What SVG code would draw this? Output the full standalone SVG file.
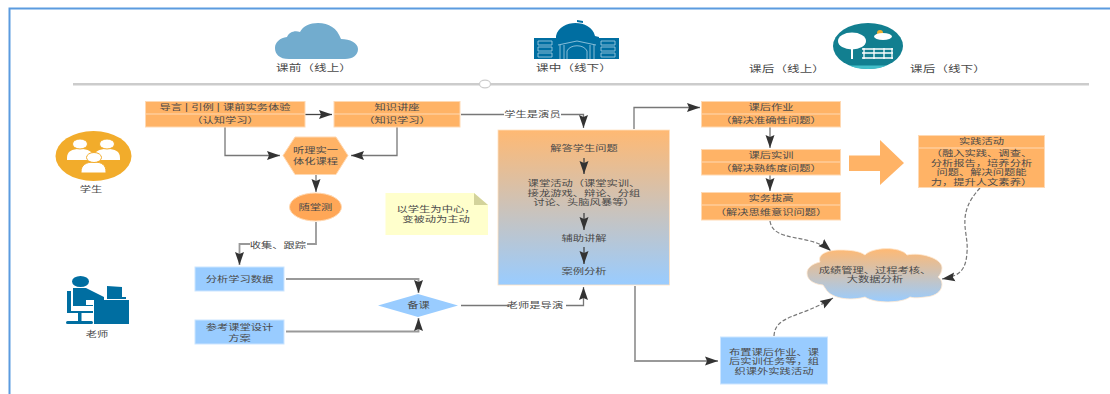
<svg xmlns="http://www.w3.org/2000/svg" width="1110" height="394" viewBox="0 0 1110 394">
<style>
text{font-family:"Liberation Sans","Noto Sans CJK SC",sans-serif;font-size:8.300px;fill:#4a4a4a;text-anchor:middle;dominant-baseline:central;transform-box:fill-box;transform-origin:center;transform:scaleX(1.36)}
.hd{font-size:9.300px}
.or{fill:#ffb366;stroke:#ffd9b3;stroke-width:1}
.bl{fill:#99ccff;stroke:#cce5ff;stroke-width:1}
.dv{stroke:#ffd9b3;stroke-width:1.2}
.c{fill:none;stroke:#777;stroke-width:1.3}
.c2{fill:none;stroke:#999;stroke-width:1.8}
.d{fill:none;stroke:#777;stroke-width:1.2;stroke-dasharray:4 2}
.lb{fill:#fff;stroke:none}
.tl{fill:#006ea1}
.wh{fill:#fff}
</style>
<defs>
<marker id="a" markerUnits="userSpaceOnUse" markerWidth="14" markerHeight="10" refX="13" refY="5" orient="auto"><path d="M0 0.5L13 5L0 9.500L2 5Z" fill="#333"/></marker>
<linearGradient id="g" x1="0" y1="0" x2="0" y2="1"><stop offset="0" stop-color="#ffb973"/><stop offset="1" stop-color="#99ccff"/></linearGradient>
</defs>
<g id="frame"><path d="M1110 8.500H9.500V394" fill="none" stroke="#5b9bdf" stroke-width="2"/></g>
<g id="timeline"><rect x="73" y="83" width="1016" height="2.500" fill="#ccc"/><ellipse cx="485" cy="84" rx="5.500" ry="3.800" fill="#fff" stroke="#ccc" stroke-width="1.200"/></g>
<g id="connectors">
<path class="c" d="M305 114.500H332" marker-end="url(#a)" style="stroke:#444"/>
<path class="c" d="M225 127V155.500H280" marker-end="url(#a)"/>
<path class="c" d="M397 127V155.500H351" marker-end="url(#a)"/>
<path class="c" d="M316 175V192" marker-end="url(#a)"/>
<path class="c2" d="M316 222V244H239.500V265" marker-end="url(#a)"/>
<rect class="lb" x="250" y="238" width="57" height="12"/>
<path class="c2" d="M286 279H418.500V293" marker-end="url(#a)"/>
<path class="c2" d="M286 331.500H418.500V318" marker-end="url(#a)"/>
<path class="c" d="M461 114.500H583.500V128" marker-end="url(#a)"/>
<rect class="lb" x="504" y="108" width="57" height="12"/>
<path class="c" d="M461 305.500H583.500V287" marker-end="url(#a)"/>
<rect class="lb" x="509" y="299" width="57" height="12"/>
<path class="c" d="M634 129V107.500H700" marker-end="url(#a)"/>
<path class="c2" d="M635 286V361H718" marker-end="url(#a)"/>
<path class="c" d="M770 127V148" marker-end="url(#a)"/>
<path class="c" d="M770 175V191" marker-end="url(#a)"/>
<path class="d" d="M770 221C773 243 810 233 831 251" marker-end="url(#a)"/>
<path class="d" d="M980 188C955 215 969 232 967 252C966 270 960 276 942 279" marker-end="url(#a)"/>
<path class="d" d="M774 336C775 315 800 318 833 298" marker-end="url(#a)"/>
</g>
<g id="pre-icon"><path d="M289 59C279 59 275 54 275 48C275 42 280 38 287 37C289 32 295 30 300 32C303 26 310 23 318 23C329 23 337 28 341 39C350 39 358 43 358 49C358 55 353 59 345 59Z" fill="#72acce"/><text class="hd" x="314" y="68">课前（线上）</text></g>
<g id="mid-icon"><path d="M556 36C558 27 567 23 575.500 23C584 23 593 27 595 36L599 37V38H556Z" class="tl"/><path d="M577 20L583 21V23L577 22Z" class="tl"/><rect class="tl" x="534" y="38" width="85" height="21"/>
<g fill="none" stroke="#a9d2e6" stroke-width="0.800"><path d="M538 41h14v4h-14zM538 47h14v4h-14zM538 53h14v4h-14zM601 41h14v4h-14zM601 47h14v4h-14zM601 53h14v4h-14z"/><path d="M558 45L577 41L596 45M560 45V59M564 45V59M590 45V59M594 45V59M567 59V51C570 44 584 44 587 51V59"/></g>
<text class="hd" x="574" y="68">课中（线下）</text></g>
<g id="post-icon">
<ellipse cx="868" cy="46" rx="35" ry="23" fill="#127f90"/>
<path d="M849 65.500H887A35 23 0 0 1 868 69A35 23 0 0 1 849 65.500Z" fill="#43bfc9"/>
<ellipse cx="852" cy="41" rx="14" ry="8.500" class="wh"/><rect class="wh" x="851" y="45" width="2" height="14"/>
<path d="M862 49h31M862 53h31M862 58h31M864 48v11M874 48v11M884 48v11M892 48v11" stroke="#fff" stroke-width="1.300" fill="none"/>
<circle cx="880" cy="33" r="3" fill="#f0b030"/><ellipse cx="883" cy="36.500" rx="9" ry="3.500" class="wh"/>
<text class="hd" x="787" y="69">课后（线上）</text><text class="hd" x="948" y="69">课后（线下）</text></g>
<g id="student"><ellipse cx="93.500" cy="156" rx="38" ry="25" fill="#f2ac2b"/>
<g class="wh"><path d="M67 158C67 151 72 149 80 149C88 149 93 151 93 158V160H67Z"/><ellipse cx="80" cy="144" rx="7.500" ry="5" stroke="#f2ac2b"/><path d="M94 158C94 151 99 149 107 149C115 149 120 151 120 158V160H94Z"/><ellipse cx="107" cy="144" rx="7.500" ry="5" stroke="#f2ac2b"/><path d="M81 172C81 165 86 162 94 162C102 162 106 165 106 172V173H81Z" stroke="#f2ac2b"/><ellipse cx="94" cy="157.500" rx="7.500" ry="5" stroke="#f2ac2b"/></g>
<text x="91" y="189">学生</text></g>
<g id="teacher"><g class="tl"><ellipse cx="80.500" cy="281.500" rx="8.500" ry="5.500"/><path d="M73 288H86L104 297V300H86V305H93V306H73Z"/><path d="M67 291H71V311H93V313H67Z"/><rect x="78" y="313" width="3.500" height="8"/><rect x="66" y="321" width="27" height="3" rx="1.500"/><rect x="94" y="300" width="35" height="24"/><path d="M107 286L122 287V297H107Z"/><rect x="107" y="297" width="19" height="2"/></g>
<text x="97" y="334">老师</text></g>
<g id="node-intro"><rect class="or" x="145.500" y="101.500" width="159.500" height="25.500"/><path class="dv" d="M145.500 114H305"/><text x="225" y="107.500">导言 | 引例 | 课前实务体验</text><text x="225" y="120.500">（认知学习）</text></g>
<g id="node-lecture"><rect class="or" x="334" y="101.500" width="126" height="25.500"/><path class="dv" d="M334 114H460"/><text x="397" y="107.500">知识讲座</text><text x="397" y="120.500">（知识学习）</text></g>
<g id="node-hex"><path class="or" d="M283 155.500L295 137H336L348 155.500L336 174.500H295Z"/><text><tspan x="315.500" y="150">听理实一</tspan><tspan x="315.500" y="160.500">体化课程</tspan></text></g>
<g id="node-test"><ellipse class="or" style="fill:#ffa757" cx="315.500" cy="207" rx="26" ry="14"/><text x="315.500" y="207">随堂测</text></g>
<text x="278" y="245">收集、跟踪</text>
<g id="node-data"><rect class="bl" x="195" y="267" width="89" height="24"/><text x="239.500" y="279">分析学习数据</text></g>
<g id="node-ref"><rect class="bl" x="195" y="320" width="89" height="24"/><text><tspan x="239.500" y="327">参考课堂设计</tspan><tspan x="239.500" y="337.500">方案</tspan></text></g>
<g id="node-prep"><path fill="#99ccff" d="M378 305.500L418 294L458 305.500L418 317Z"/><text x="418.500" y="305.500">备课</text></g>
<g id="node-note"><path fill="#ffffcc" d="M385.500 193H474L488 205V235H385.500Z"/><path fill="#d3d39b" d="M474 193L488 205H474Z"/><text><tspan x="436" y="209">以学生为中心，</tspan><tspan x="436" y="218.500">变被动为主动</tspan></text></g>
<text x="532.500" y="114.500">学生是演员</text>
<text x="535" y="305.500">老师是导演</text>
<g id="node-main"><rect x="498" y="130" width="171.500" height="155" fill="url(#g)" stroke="#ffe0c0" stroke-width="0.800"/><text x="584" y="148.500">解答学生问题</text><text><tspan x="584" y="183">课堂活动（课堂实训、</tspan><tspan x="584" y="192.500">接龙游戏、辩论、分组</tspan><tspan x="584" y="202">讨论、头脑风暴等）</tspan></text><text x="584" y="238">辅助讲解</text><text x="584" y="271.500">案例分析</text>
<g id="main-arrows"><path class="c" d="M584 158V174" marker-end="url(#a)" style="stroke:#444"/><path class="c" d="M584 213V230" marker-end="url(#a)" style="stroke:#444"/><path class="c" d="M584 247V264" marker-end="url(#a)" style="stroke:#444"/></g></g>
<g id="node-hw"><rect class="or" x="701.500" y="101.500" width="139" height="25.500"/><path class="dv" d="M701.500 114H840.500"/><text x="771" y="107.500">课后作业</text><text x="771" y="120.500">（解决准确性问题）</text></g>
<g id="node-train"><rect class="or" x="701.500" y="149.500" width="139" height="25.500"/><path class="dv" d="M701.500 162H840.500"/><text x="771" y="155.500">课后实训</text><text x="771" y="168.500">（解决熟练度问题）</text></g>
<g id="node-adv"><rect class="or" x="701.500" y="192.500" width="139" height="27.500"/><path class="dv" d="M701.500 205H840.500"/><text x="771" y="198.500">实务拔高</text><text x="771" y="212.500">（解决思维意识问题）</text></g>
<path id="big-arrow" fill="#ffb366" d="M849 155.500H880V140L904 163L880 185V171H849Z"/>
<g id="node-practice"><rect class="or" x="918.500" y="135.500" width="126" height="52"/><path class="dv" d="M918.500 148H1044.500"/><text x="981.500" y="141">实践活动</text><text><tspan x="981.500" y="153">（融入实践、调查、</tspan><tspan x="981.500" y="162.500">分析报告，培养分析</tspan><tspan x="981.500" y="172">问题、解决问题能</tspan><tspan x="981.500" y="181.500">力，提升人文素养）</tspan></text></g>
<g id="node-cloud"><path fill="url(#g)" stroke="#ffe8d0" stroke-width="0.800" d="M820 262C817 253 830 250 840 250C850 250 860 251 865 255C872 247 900 246 907 255C920 252 942 258 942 268C942 272 940 275 938 277C945 281 944 296 925 297C918 298 913 298 910 297C903 303 875 304 865 297C855 300 832 301 825 288L823 285C812 284 807 279 807 273C807 268 812 264 820 262Z"/><text><tspan x="875" y="269.500">成绩管理、过程考核、</tspan><tspan x="875" y="279">大数据分析</tspan></text></g>
<g id="node-assign"><rect class="bl" x="720.500" y="337" width="107" height="47"/><text><tspan x="774" y="351.500">布置课后作业、课</tspan><tspan x="774" y="361">后实训任务等，组</tspan><tspan x="774" y="370.500">织课外实践活动</tspan></text></g>
</svg>
